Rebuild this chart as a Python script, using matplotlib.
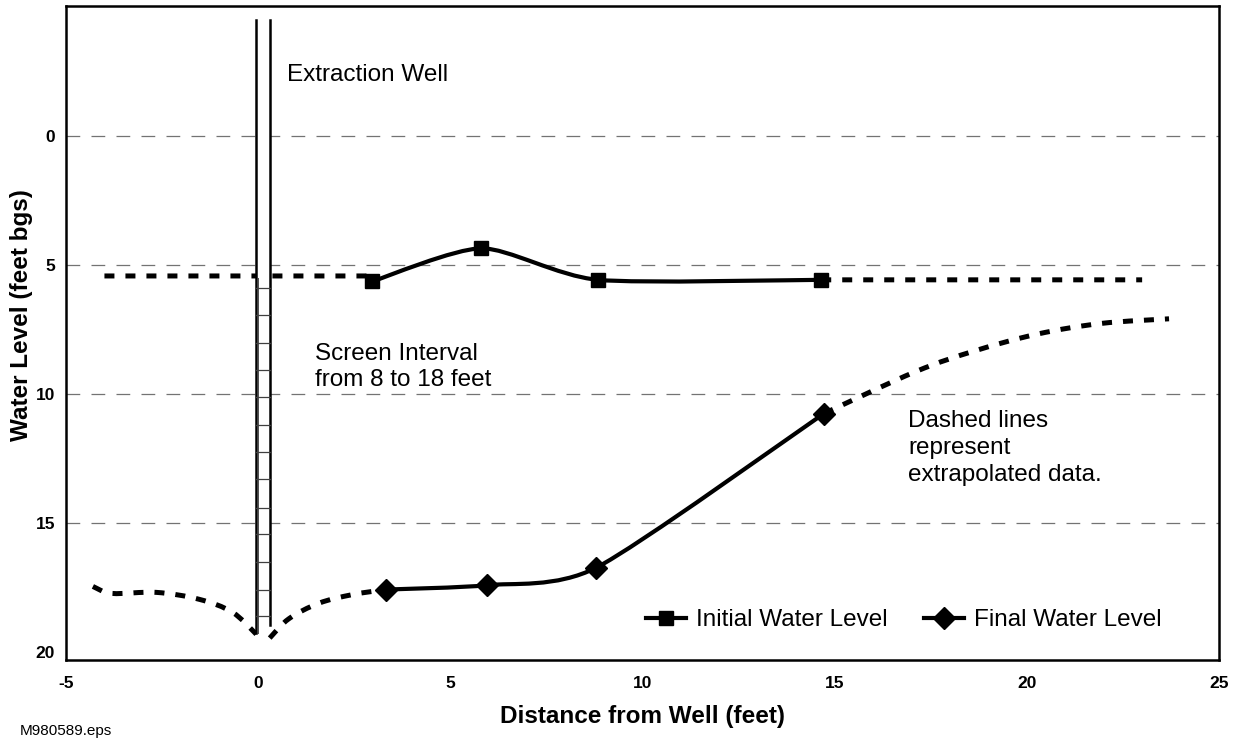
import matplotlib
matplotlib.use("Agg")
import matplotlib.pyplot as plt
from matplotlib.path import Path
from matplotlib.patches import PathPatch, Rectangle
from matplotlib.lines import Line2D

plt.rcParams["font.family"] = ["Liberation Sans", "DejaVu Sans"]
plt.rcParams["axes.unicode_minus"] = False

# --- data (x = distance from well, y = feet bgs) ---
init_x = [2.97, 5.81, 8.84, 14.65]
init_y = [5.63, 4.35, 5.57, 5.57]
init_ext_left_x = [-4.0, 2.97]
init_ext_left_y = [5.42, 5.42]
init_ext_right_x = [14.65, 23.0]
init_ext_right_y = [5.57, 5.57]

final_x = [3.32, 5.96, 8.80, 14.72]
final_y = [17.57, 17.40, 16.72, 10.75]
final_ext_left_x = [-4.3, -3.8, -2.65, -1.53, -0.67, -0.05]
final_ext_left_y = [17.45, 17.72, 17.68, 17.95, 18.45, 19.3]
final_ext_mid_x = [0.3, 0.8, 1.58, 2.44, 3.32]
final_ext_mid_y = [19.45, 18.7, 18.1, 17.77, 17.57]
final_ext_right_x = [14.72, 17.1, 18.65, 20.28, 21.93, 23.7]
final_ext_right_y = [10.75, 9.13, 8.32, 7.67, 7.26, 7.08]

# well sketch
well_left, well_right = -0.05, 0.3
well_top, well_bottom = -4.5, 19.25
screen_top = 5.5
screen_marks = [5.87, 6.94, 8.0, 9.05, 10.1, 11.2, 12.24, 13.3, 14.4, 15.4, 16.5, 17.6, 18.6]

xticks = [-5, 0, 5, 10, 15, 20, 25]
yticks = [0, 5, 10, 15, 20]
grid_levels = [0, 5, 10, 15]


def smooth_path(xs, ys, k=0.12):
    # Catmull-Rom style smoothing through the points, drawn as cubic beziers
    pts = list(zip(xs, ys))
    verts = [pts[0]]
    codes = [Path.MOVETO]
    n = len(pts)
    for i in range(n - 1):
        p0 = pts[i - 1] if i > 0 else pts[i]
        p1 = pts[i]
        p2 = pts[i + 1]
        p3 = pts[i + 2] if i + 2 < n else pts[i + 1]
        c1 = (p1[0] + (p2[0] - p0[0]) * k, p1[1] + (p2[1] - p0[1]) * k)
        c2 = (p2[0] - (p3[0] - p1[0]) * k, p2[1] - (p3[1] - p1[1]) * k)
        verts += [c1, c2, p2]
        codes += [Path.CURVE4] * 3
    return Path(verts, codes)


def draw_curve(ax, xs, ys, dashed=False, z=3):
    if dashed:
        patch = PathPatch(smooth_path(xs, ys, 1 / 6), fill=False, ec="black", lw=3.6,
                          ls=(0, (2.0, 2.2)), capstyle="butt", zorder=z)
    else:
        patch = PathPatch(smooth_path(xs, ys), fill=False, ec="black", lw=3.0,
                          capstyle="round", joinstyle="round", zorder=z)
    ax.add_patch(patch)


fig = plt.figure(figsize=(12.38, 7.38), dpi=100)
ax = fig.add_axes([66 / 1238, 1 - 660 / 738, (1219 - 66) / 1238, (660 - 6) / 738])

ax.set_xlim(-5, 25)
ax.set_ylim(20.3, -5.04)

for g in grid_levels:
    ax.axhline(g, color="0.45", lw=0.9, ls=(0, (11, 9)), zorder=1)

# extrapolated parts
draw_curve(ax, init_ext_left_x, init_ext_left_y, dashed=True)
draw_curve(ax, init_ext_right_x, init_ext_right_y, dashed=True)
draw_curve(ax, final_ext_left_x, final_ext_left_y, dashed=True)
draw_curve(ax, final_ext_mid_x, final_ext_mid_y, dashed=True)
draw_curve(ax, final_ext_right_x, final_ext_right_y, dashed=True)

# measured parts
draw_curve(ax, init_x, init_y)
draw_curve(ax, final_x, final_y)
ax.plot(init_x, init_y, ls="none", marker="s", ms=10, color="black", zorder=6)
ax.plot(final_x, final_y, ls="none", marker="D", ms=11, color="black", zorder=6)

# the well
ax.add_patch(Rectangle((well_left, well_top), well_right - well_left, well_bottom - well_top,
                       fc="white", ec="none", zorder=4))
ax.plot([well_left, well_left], [well_top, well_bottom], color="black", lw=1.8, zorder=5)
ax.plot([well_right, well_right], [well_top, well_bottom - 0.3], color="black", lw=1.8, zorder=5)
ax.plot([well_left + 0.05, well_left + 0.05], [screen_top, well_bottom], color="0.3", lw=0.7, zorder=5)
for m in screen_marks:
    ax.plot([well_left, well_right], [m, m], color="0.25", lw=0.9, zorder=5)

ax.text(0.74, -2.79, "Extraction Well", fontsize=17.5, ha="left", va="top", zorder=7)
ax.text(1.49, 8.03, "Screen Interval\nfrom 8 to 18 feet", fontsize=17.5,
        ha="left", va="top", zorder=7)
ax.text(16.91, 10.62, "Dashed lines\nrepresent\nextrapolated data.", fontsize=17.5,
        ha="left", va="top", linespacing=1.3, zorder=7)

handles = [
    Line2D([], [], color="black", lw=3.0, marker="s", ms=10),
    Line2D([], [], color="black", lw=3.0, marker="D", ms=11),
]
ax.legend(handles, ["Initial Water Level", "Final Water Level"], ncol=2, frameon=False,
          loc="center", bbox_to_anchor=(0.7265, 0.061), fontsize=17.5,
          handlelength=1.65, handletextpad=0.4, columnspacing=1.5)

ax.set_xticks(xticks)
ax.set_yticks(yticks)
ax.tick_params(axis="x", length=0, pad=11.5, labelsize=12.5)
ax.tick_params(axis="y", length=0, pad=8, labelsize=12.5)
for lab in ax.get_xticklabels() + ax.get_yticklabels():
    lab.set_fontweight("bold")

for s in ax.spines.values():
    s.set_linewidth(1.8)
    s.set_zorder(8)

ax.set_xlabel("Distance from Well (feet)", fontsize=17.5, fontweight="bold")
ax.xaxis.set_label_coords(0.5, (660 - 717) / 654)
ax.xaxis.label.set_va("center")
ax.set_ylabel("Water Level (feet bgs)", fontsize=17.5, fontweight="bold")
ax.yaxis.set_label_coords((22 - 66) / 1153, (660 - 315) / 654)
ax.yaxis.label.set_va("center")

fig.text(20 / 1238, 1 - 731 / 738, "M980589.eps", fontsize=11, ha="left", va="center")

fig.savefig("out.png", dpi=100)
